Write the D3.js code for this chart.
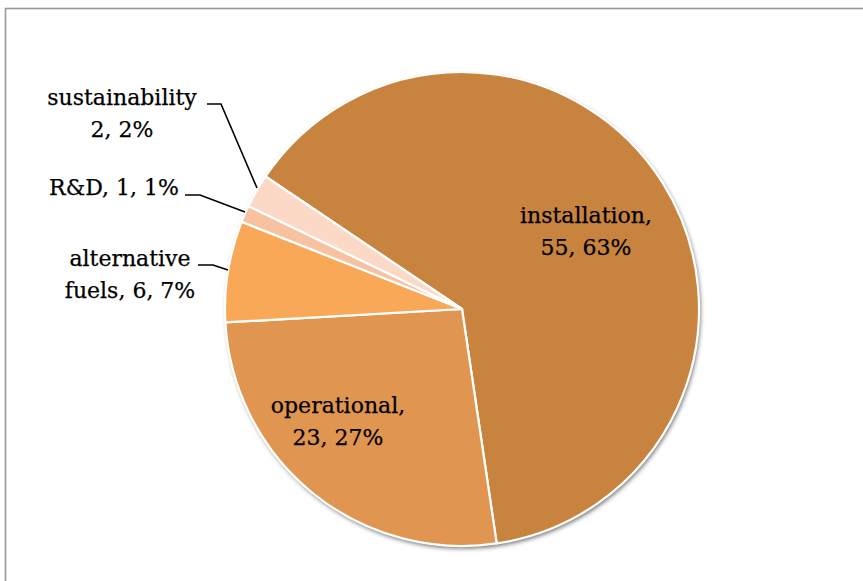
<!DOCTYPE html>
<html><head><meta charset="utf-8">
<script src="https://cdn.jsdelivr.net/npm/d3@7"></script>
<style>body{margin:0;background:#fff}svg{display:block}</style>
</head><body>
<svg id="c" width="863" height="581"></svg>
<script>
const categories = ["installation", "operational", "alternative fuels", "R&D", "sustainability"];
const values = [55, 23, 6, 1, 2];
const percents = ["63%", "27%", "7%", "1%", "2%"];
const colors = ["#C8843F", "#E09650", "#F9A857", "#F8C19F", "#FCD8C6"];

const svg = d3.select("#c");
const W = 863, H = 581;
const cx = 462, cy = 309, R = 237;
const startDeg = 304;

svg.append("rect").attr("x", 5.5).attr("y", 8.5).attr("width", W + 10).attr("height", H + 10)
  .attr("fill", "none").attr("stroke", "#999").attr("stroke-width", 1.6);

const defs = svg.append("defs");
const f = defs.append("filter").attr("id", "sh").attr("x", "-10%").attr("y", "-10%").attr("width", "120%").attr("height", "120%");
f.append("feDropShadow").attr("dx", 1.5).attr("dy", 2.5).attr("stdDeviation", 2).attr("flood-color", "#000").attr("flood-opacity", 0.55);

const data = categories.map((c, i) => ({cat: c, v: values[i], p: percents[i], col: colors[i]}));
const pie = d3.pie().value(d => d.v).sort(null)
  .startAngle(startDeg * Math.PI / 180).endAngle((startDeg + 360) * Math.PI / 180);
const arcs = pie(data);
const arc = d3.arc().innerRadius(0).outerRadius(R);

const g = svg.append("g").attr("transform", `translate(${cx},${cy})`);
g.append("circle").attr("r", R).attr("fill", "#fff").attr("filter", "url(#sh)");
g.selectAll("path.s").data(arcs).join("path").attr("class", "s")
  .attr("d", arc).attr("fill", d => d.data.col)
  .attr("stroke", "#fff").attr("stroke-width", 2.2).attr("stroke-linejoin", "round");

const font = "'DejaVu Serif', serif";
const fs = 22;
function label(lines, x, y) {
  const t = svg.append("text").attr("x", x).attr("y", y).attr("text-anchor", "middle")
    .attr("font-family", font).attr("font-size", fs).attr("fill", "#000")
    .attr("stroke", "#000").attr("stroke-width", 0.25);
  lines.forEach((l, i) => t.append("tspan").attr("x", x).attr("dy", i === 0 ? 0 : 31.5).text(l));
}
const D = Object.fromEntries(data.map(d => [d.cat, d]));
label([`installation,`, `${D["installation"].v}, ${D["installation"].p}`], 586, 223);
label([`operational,`, `${D["operational"].v}, ${D["operational"].p}`], 338, 413);
label([`sustainability`, `${D["sustainability"].v}, ${D["sustainability"].p}`], 122, 105);
label([`R&D, ${D["R&D"].v}, ${D["R&D"].p}`], 114, 195);
label([`alternative`, `fuels, ${D["alternative fuels"].v}, ${D["alternative fuels"].p}`], 130, 266);

// leader lines
const leaders = [
  [[207,104],[221,104],[257,188]],
  [[185,195],[200,195],[245,212]],
  [[198,265],[213,265],[228,270]]
];
const line = d3.line();
svg.selectAll("path.l").data(leaders).join("path").attr("class", "l")
  .attr("d", line).attr("fill", "none").attr("stroke", "#000").attr("stroke-width", 1.6);
</script>
</body></html>
